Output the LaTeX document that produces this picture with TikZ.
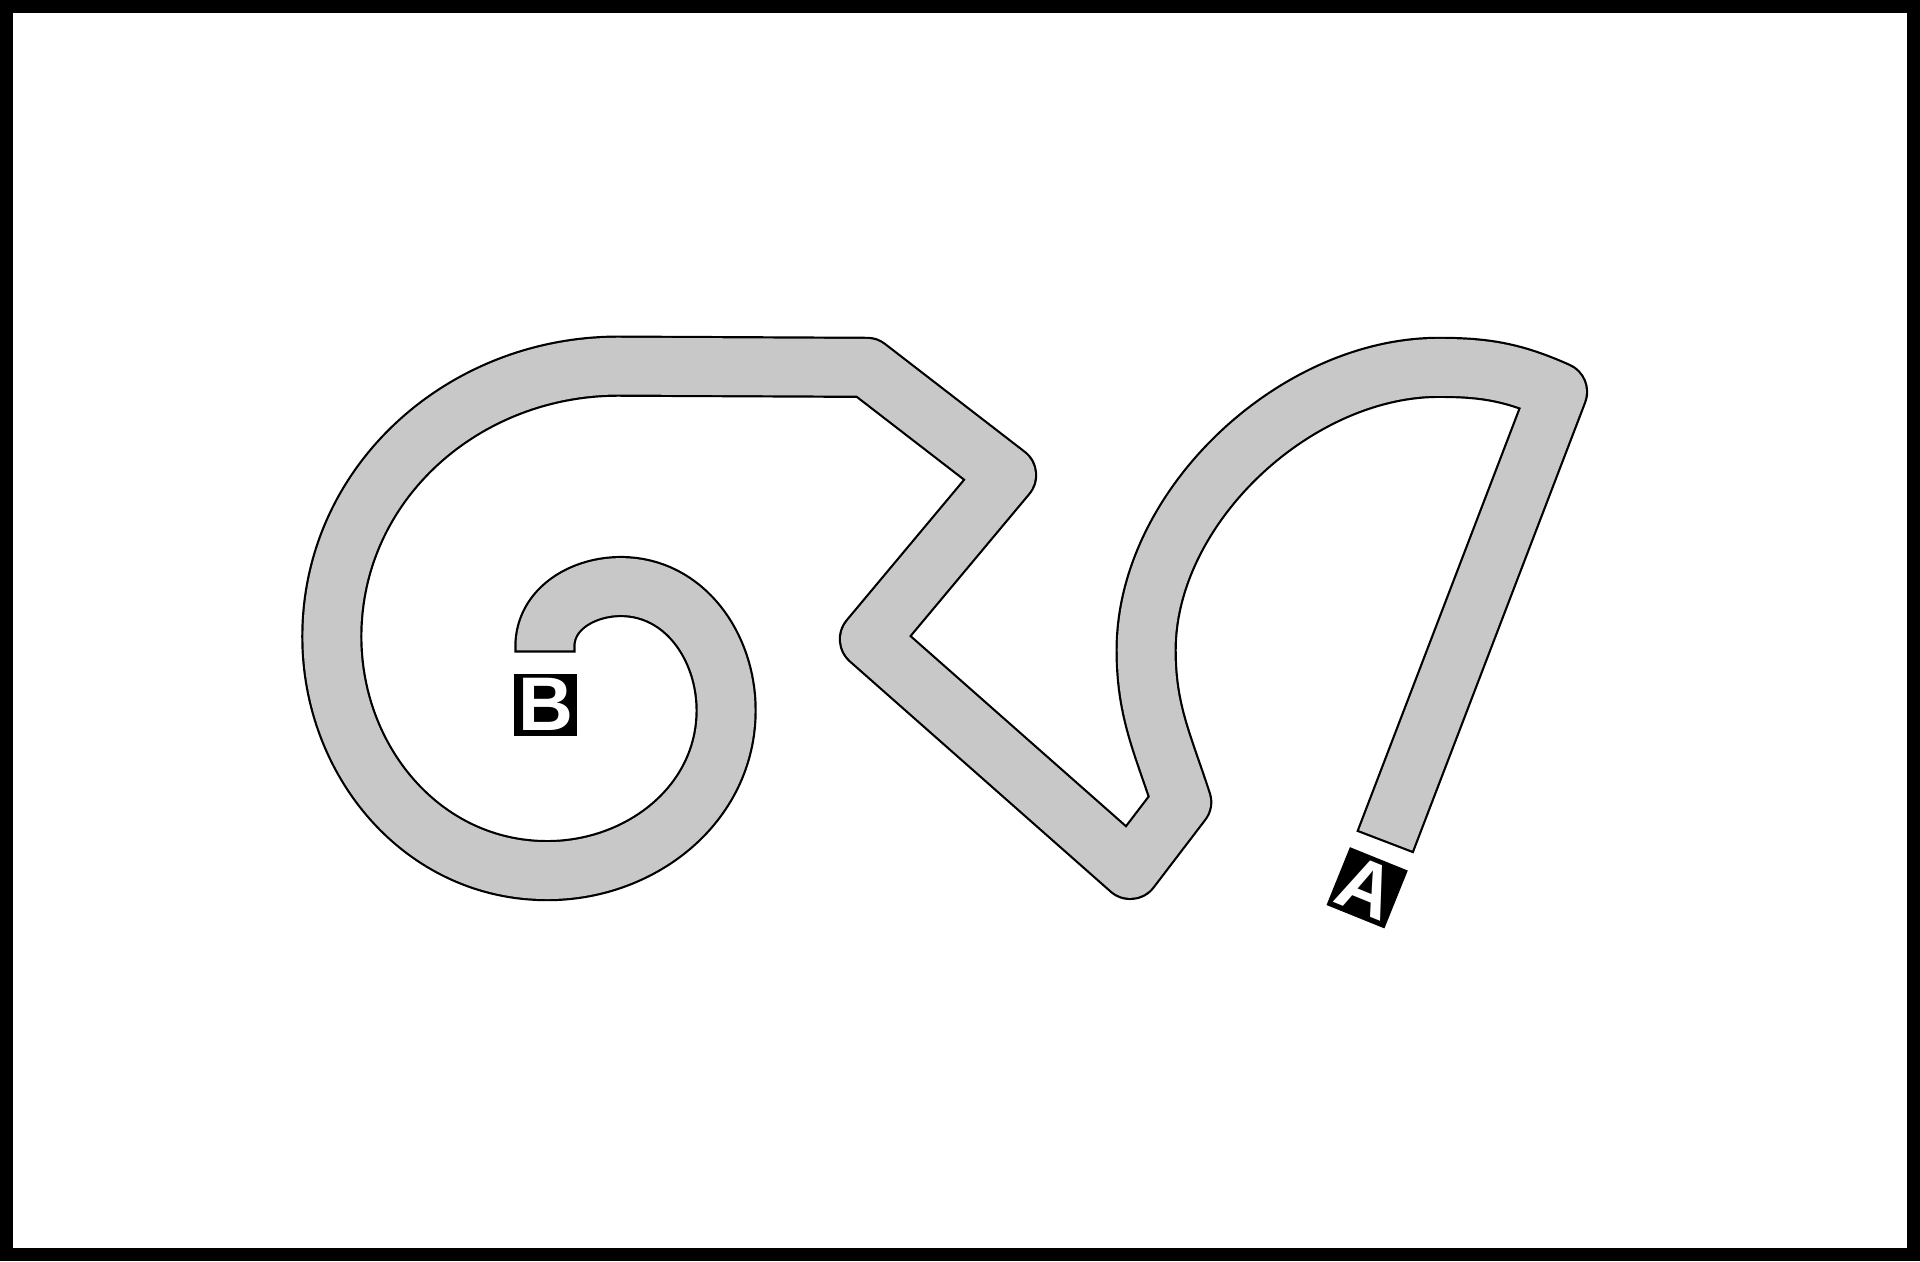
\documentclass[tikz,border=0pt]{standalone}
\usepackage{fontspec}
\setmainfont{Liberation Sans}
\definecolor{trackgray}{RGB}{200,200,200}
\newcommand\trackpath{(445,-533) -- (445,-528) to[out=90,in=180] (507,-479) to[out=0,in=90] (593,-580) to[out=-90,in=0] (447,-711) to[out=180,in=-90] (271,-520) to[out=90,in=180] (505,-299) -- (708,-300) -- (822,-388) -- (710,-522) -- (923,-710) -- (965,-655) to[out=108,in=-90] (936,-531) to[out=90,in=180,looseness=0.9] (1175,-300) to[out=0,in=156] (1272,-320) -- (1131,-688)}
\begin{document}
\begin{tikzpicture}[x=0.61224pt,y=0.61224pt,
  outline/.style={draw=black,line width=30.6pt,line join=round,line cap=butt},
  inner/.style={draw=trackgray,line width=28.4pt,line join=round,line cap=butt,shorten <=1.1pt,shorten >=1.1pt},
  labelbox/.style={fill=black,text=white,minimum size=31.2pt,inner sep=0pt,font=\fontsize{38}{38}\selectfont\bfseries}]
\useasboundingbox (0,0) rectangle (1568,-1030);
\fill[black] (0,0) rectangle (1568,-1030);
\fill[white] (10.6,-10.6) rectangle (1557.4,-1019.4);
\draw[outline] \trackpath;
\draw[inner] \trackpath;
\node[labelbox] (B) at (445.5,-575.5) {B};
\node[labelbox,rotate=-22] (A) at (1116.5,-725) {A};
\end{tikzpicture}
\end{document}
